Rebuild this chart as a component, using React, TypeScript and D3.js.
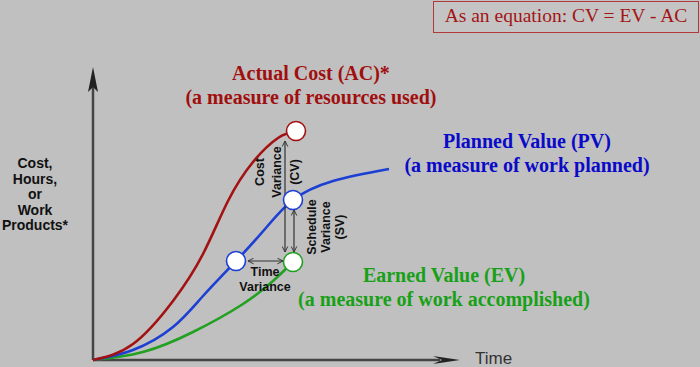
import React, { useEffect } from "react";
import * as d3 from "d3";

// ---- data (time units, value units) ----
const acCurve: [number, number][] = [
  [0, 0], [40, 16], [80, 59], [110, 106], [135, 159], [160, 198], [185, 222], [203, 229],
];
const pvCurve: [number, number][] = [
  [0, 0], [40, 10], [80, 33], [110, 64], [143, 99], [172, 131], [200, 160], [240, 179], [296, 191],
];
const evCurve: [number, number][] = [
  [0, 0], [50, 8], [100, 28], [150, 56], [180, 79], [200, 98],
];
const pointSeries = ["AC", "PV", "PV", "EV"];
const pointTimes = [203, 143, 200, 200];
const pointValues = [229, 99, 160, 98];

const seriesColors: Record<string, string> = { AC: "#a31212", PV: "#1c3fd4", EV: "#22a022" };
const textColors: Record<string, string> = { AC: "#a00f0f", PV: "#0a0ac8", EV: "#18a018" };

const yLabelLines = ["Cost,", "Hours,", "or", "Work", "Products*"];
const cvLines = ["Cost", "Variance", "(CV)"];
const svLines = ["Schedule", "Variance", "(SV)"];
const tvLines = ["Time", "Variance"];
const acTitle = ["Actual Cost (AC)*", "(a measure of resources used)"];
const pvTitle = ["Planned Value (PV)", "(a measure of work planned)"];
const evTitle = ["Earned Value (EV)", "(a measure of work accomplished)"];
const equation = "As an equation: CV = EV - AC";
const xAxisLabel = "Time";

const W = 700, H = 367;
const x = d3.scaleLinear().domain([0, 367]).range([93, 460]);
const y = d3.scaleLinear().domain([0, 293]).range([360, 67]);

const line = d3
  .line<[number, number]>()
  .x((d) => x(d[0]))
  .y((d) => y(d[1]))
  .curve(d3.curveNatural);

const SERIF = "'Liberation Serif', 'Times New Roman', serif";
const SANS = "'Liberation Sans', Arial, sans-serif";

export default function App() {
  useEffect(() => {
    document.body.style.margin = "0";
  }, []);

  const x0 = x(0), y0 = y(0);
  const xt = x(367), yt = y(293);

  const titleBlock = (lines: string[], cx: number, cy: number, color: string) => (
    <g>
      {lines.map((t, i) => (
        <text key={i} x={cx} y={cy + i * 24} textAnchor="middle" fontFamily={SERIF}
          fontWeight="bold" fontSize={20} fill={color} dominantBaseline="middle">{t}</text>
      ))}
    </g>
  );

  const rotBlock = (lines: string[], xs: number[], cy: number) => (
    <g>
      {lines.map((t, i) => (
        <text key={i} transform={`translate(${xs[i]},${cy}) rotate(-90)`} textAnchor="middle"
          dominantBaseline="middle" fontFamily={SANS} fontWeight="bold" fontSize={12.5} fill="#111">{t}</text>
      ))}
    </g>
  );

  return (
    <svg width={W} height={H} style={{ position: "absolute", left: 0, top: 0, display: "block" }}>
      <defs>
        <marker id="chev" viewBox="0 0 10 10" refX="9" refY="5" markerWidth="7" markerHeight="7"
          orient="auto-start-reverse" markerUnits="userSpaceOnUse">
          <path d="M1,1 L9,5 L1,9" fill="none" stroke="#333" strokeWidth={1.4} />
        </marker>
      </defs>
      <rect x={0} y={0} width={W} height={H} fill="#c0c0c0" />

      {/* equation box */}
      <rect x={433.5} y={1.5} width={265} height={31} fill="#c4c4c4" stroke="#b03a3a" strokeWidth={1} />
      <text x={566} y={18} textAnchor="middle" dominantBaseline="middle" fontFamily={SERIF}
        fontSize={19.5} fill="#a31515">{equation}</text>

      {/* axes */}
      <line x1={x0} y1={y0} x2={x0} y2={yt + 20} stroke="#444" strokeWidth={2.5} />
      <line x1={x0} y1={y0} x2={xt - 20} y2={y0} stroke="#444" strokeWidth={2.5} />
      <path d={`M${x0},${yt} L${x0 - 5},${yt + 25} L${x0},${yt + 20} L${x0 + 5},${yt + 25} Z`} fill="#222" />
      <path d={`M${xt},${y0} L${xt - 27},${y0 - 4} L${xt - 18},${y0} L${xt - 27},${y0 + 4} Z`} fill="#222" />

      {/* y label */}
      {yLabelLines.map((t, i) => (
        <text key={i} x={35} y={168 + i * 15.5} textAnchor="middle" fontFamily={SANS}
          fontWeight="bold" fontSize={14} fill="#111">{t}</text>
      ))}
      <text x={475} y={364} fontFamily={SANS} fontSize={17} fill="#333">{xAxisLabel}</text>

      {/* curves */}
      <path d={line(evCurve) || ""} fill="none" stroke={seriesColors.EV} strokeWidth={2.6} />
      <path d={line(pvCurve) || ""} fill="none" stroke={seriesColors.PV} strokeWidth={2.6} />
      <path d={line(acCurve) || ""} fill="none" stroke={seriesColors.AC} strokeWidth={2.6} />

      {/* variance arrows */}
      <line x1={x(192)} y1={y(219)} x2={x(192)} y2={y(108)} stroke="#333" strokeWidth={1.2}
        markerStart="url(#chev)" markerEnd="url(#chev)" />
      <line x1={x(201)} y1={y(150)} x2={x(201)} y2={y(108)} stroke="#333" strokeWidth={1.2}
        markerStart="url(#chev)" markerEnd="url(#chev)" />
      <line x1={x(155)} y1={y(99)} x2={x(190)} y2={y(99)} stroke="#333" strokeWidth={1.2}
        markerStart="url(#chev)" markerEnd="url(#chev)" />

      {/* points */}
      {pointSeries.map((s, i) => (
        <circle key={i} cx={x(pointTimes[i])} cy={y(pointValues[i])} r={9.5} fill="#fff"
          stroke={seriesColors[s]} strokeWidth={1.6} />
      ))}

      {/* variance labels */}
      {rotBlock(cvLines, [261, 278, 296], 172)}
      {rotBlock(svLines, [313, 327, 341], 227)}
      {tvLines.map((t, i) => (
        <text key={i} x={265} y={273 + i * 15} textAnchor="middle" dominantBaseline="middle"
          fontFamily={SANS} fontWeight="bold" fontSize={12.5} fill="#111">{t}</text>
      ))}

      {/* titles */}
      {titleBlock(acTitle, 311, 75, textColors.AC)}
      {titleBlock(pvTitle, 527, 143, textColors.PV)}
      {titleBlock(evTitle, 444, 277, textColors.EV)}
    </svg>
  );
}
